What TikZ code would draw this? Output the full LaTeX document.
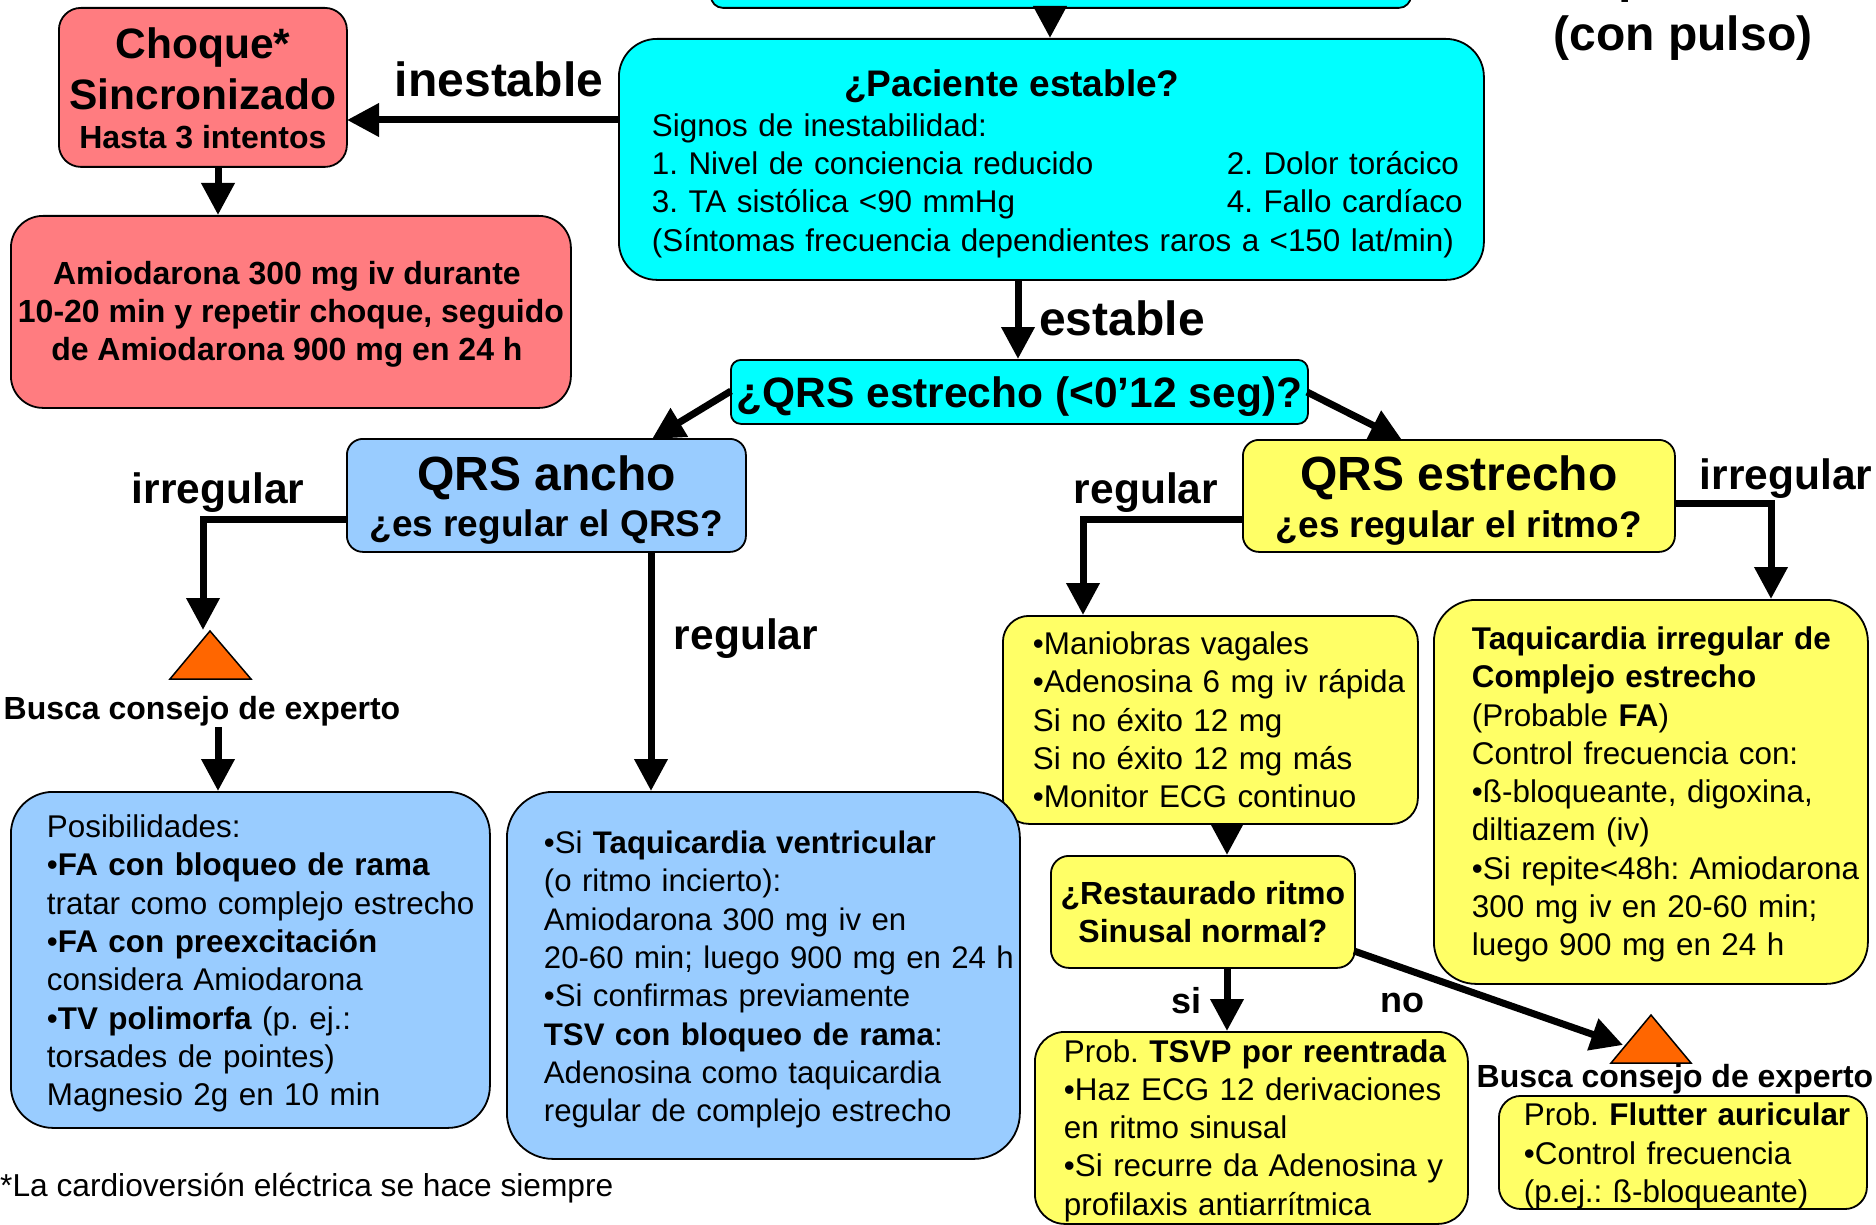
\documentclass[tikz,border=0pt]{standalone}
\usepackage{fontspec}
\setmainfont{Liberation Sans}
\usetikzlibrary{arrows.meta}
\definecolor{cyanbox}{RGB}{0,255,255}
\definecolor{redbox}{RGB}{255,124,128}
\definecolor{bluebox}{RGB}{153,204,255}
\definecolor{yellowbox}{RGB}{255,255,102}
\definecolor{orangetri}{RGB}{255,102,0}
\newcommand{\Fs}[1]{\fontsize{#1}{38.3}\selectfont\frenchspacing}
\newcommand{\Pad}[1]{\leftskip=#1pt\rightskip=-60pt plus 1fil\relax}
\newcommand{\Dn}[1]{\vrule width 0pt height #1pt\relax}
\newcommand{\Bul}{•}
\tikzset{
  x=1pt,y=-1pt,
  box/.style={draw=black,line width=1.8pt,rounded corners=#1,inner sep=0pt,anchor=north west,font=\Fs{31.4}},
  box/.default=22pt,
  tbox/.style args={#1 by #2}{minimum width=#1,minimum height=#2,text width=#1,align=left},
  cbox/.style args={#1 by #2}{minimum width=#1,minimum height=#2,align=center},
  conn/.style={line width=7pt,-{Triangle[length=32pt,width=32pt]}},
  lab/.style={inner sep=0pt,font=\Fs{48}\bfseries},
  labs/.style={inner sep=0pt,font=\Fs{42.5}\bfseries},
  busca/.style={inner sep=0pt,font=\Fs{32}\bfseries},
  tri/.style={draw=black,line width=1.5pt,fill=orangetri,line join=miter},
}
\begin{document}
\begin{tikzpicture}
\useasboundingbox (0,0) rectangle (1876,1225);
\clip (0,0) rectangle (1876,1225);
% title
\node[inner sep=0pt,font=\Fs{48}\bfseries,anchor=base] (titleA) at (1683,-7) {Taquicardia};
\node[inner sep=0pt,font=\Fs{48}\bfseries,anchor=base] (titleB) at (1683,51) {(con pulso)};
% boxes
\node[box=12pt,fill=cyanbox,cbox=700pt by 70pt] (top) at (710,-63) {};
\node[box=38pt,fill=cyanbox,tbox=865pt by 241pt] (pac) at (618,38) {\Pad{33}%
  \makebox[720pt][c]{\Dn{35}\Fs{37}\bfseries ¿Paciente estable?}\\[2pt]
  Signos de inestabilidad:\\
  \makebox[575pt][l]{1. Nivel de conciencia reducido}2. Dolor torácico\\
  \makebox[575pt][l]{3. TA sistólica <90 mmHg}4. Fallo cardíaco\\
  (Síntomas frecuencia dependientes raros a <150 lat/min)\par};
\node[box=22pt,fill=redbox,cbox=288pt by 159pt] (choque) at (58,7) {\Dn{32}\Fs{42.5}\bfseries Choque*\\[10.5pt]
  \Fs{42.5}\bfseries Sincronizado\\[1pt] \Fs{32}\bfseries Hasta 3 intentos};
\node[box=32pt,fill=redbox,cbox=560pt by 192pt,font=\Fs{32}\bfseries] (amio) at (10,215) {\Dn{28}Amiodarona 300 mg iv durante\hspace*{8pt}\\
  10-20 min y repetir choque, seguido\hspace*{8pt}\\ de Amiodarona 900 mg en 24 h\hspace*{8pt}};
\node[box=10pt,fill=cyanbox,cbox=577pt by 64pt,font=\Fs{42.5}\bfseries] (qrsq) at (730,359) {\Dn{41}¿QRS estrecho (<0’12 seg)?};
\node[box=16pt,fill=bluebox,cbox=399pt by 113pt] (ancho) at (346,438) {\Dn{44}\Fs{48}\bfseries QRS ancho\\[8.5pt] \Fs{37}\bfseries ¿es regular el QRS?};
\node[box=16pt,fill=yellowbox,cbox=432pt by 112pt] (estrecho) at (1242,439) {\Dn{44}\Fs{48}\bfseries QRS estrecho\\[8.5pt] \Fs{37}\bfseries ¿es regular el ritmo?};
\node[box=26pt,fill=yellowbox,tbox=415pt by 208pt] (vagal) at (1002,615) {\Pad{30}%
  \Bul Maniobras vagales\\ \Bul Adenosina 6 mg iv rápida\\ Si no éxito 12 mg\\ Si no éxito 12 mg más\\ \Bul Monitor ECG continuo\par};
\node[box=18pt,fill=yellowbox,cbox=304pt by 112pt,font=\Fs{32}\bfseries] (rest) at (1050,855) {¿Restaurado ritmo\\ Sinusal normal?};
\node[box=30pt,fill=yellowbox,tbox=433pt by 192pt] (tsvp) at (1034,1031) {\Pad{29}%
  \Dn{28}Prob. \textbf{TSVP por reentrada}\\ \Bul Haz ECG 12 derivaciones\\ en ritmo sinusal\\ \Bul Si recurre da Adenosina y\\ profilaxis antiarrítmica\par};
\node[box=22pt,fill=yellowbox,tbox=368pt by 112pt] (flutter) at (1498,1095) {\Pad{25}%
  \Dn{30}Prob. \textbf{Flutter auricular}\\ \Bul Control frecuencia\\ (p.ej.: ß-bloqueante)\par};
\node[box=42pt,fill=yellowbox,tbox=434pt by 384pt] (irr) at (1433,599) {\Pad{38}%
  \Dn{28}\textbf{Taquicardia irregular de}\\ \textbf{Complejo estrecho}\\ (Probable \textbf{FA})\\ Control frecuencia con:\\
  \Bul ß-bloqueante, digoxina,\\ diltiazem (iv)\\ \Bul Si repite<48h: Amiodarona\\ 300 mg iv en 20-60 min;\\ luego 900 mg en 24 h\par};
\node[box=42pt,fill=bluebox,tbox=479pt by 336pt] (posib) at (10,791) {\Pad{36}%
  \Dn{30}Posibilidades:\\ \Bul\textbf{FA con bloqueo de rama}\\ tratar como complejo estrecho\\ \Bul\textbf{FA con preexcitación}\\ considera Amiodarona\\
  \Bul\textbf{TV polimorfa} (p. ej.:\\ torsades de pointes)\\ Magnesio 2g en 10 min\par};
\node[box=46pt,fill=bluebox,tbox=513pt by 367pt,font=\Fs{31.2}] (sitaq) at (506,791) {\Pad{37}%
  \Dn{31}\Bul Si \textbf{Taquicardia ventricular}\\ (o ritmo incierto):\\ Amiodarona 300 mg iv en\\ 20-60 min; luego 900 mg en 24 h\\
  \Bul Si confirmas previamente\\ \textbf{TSV con bloqueo de rama}:\\ Adenosina como taquicardia\\ regular de complejo estrecho\par};
% triangles
\coordinate (triLa) at (210,631); \coordinate (triLb) at (251,679); \coordinate (triLc) at (170,679);
\coordinate (triRa) at (1651,1015); \coordinate (triRb) at (1691,1063); \coordinate (triRc) at (1611,1063);
\draw[tri] (triLa) -- (triLb) -- (triLc) -- cycle;
\draw[tri] (triRa) -- (triRb) -- (triRc) -- cycle;
% free texts
\node[busca] (buscaL) at (202,711) {Busca consejo de experto};
\node[busca] (buscaR) at (1675,1079) {Busca consejo de experto};
\node[inner sep=0pt,font=\Fs{31.7},anchor=base west] (nota) at (0,1196) {*La cardioversión eléctrica se hace siempre};
\node[lab] (lInest) at (499,79) {inestable};
\node[lab] (lEst) at (1122,318) {estable};
\node[labs] (lIrrL) at (218,493) {irregular};
\node[labs] (lRegL) at (746,639) {regular};
\node[labs] (lRegR) at (1146,493) {regular};
\node[labs] (lIrrR) at (1786,479) {irregular};
\node[font=\Fs{36}\bfseries,inner sep=0pt] (lSi) at (1186,1001) {si};
\node[font=\Fs{36}\bfseries,inner sep=0pt] (lNo) at (1402,1003) {no};
% anchors of connectors
\coordinate (eTop) at (1050,7); \coordinate (tPac) at (1050,38);
\coordinate (ePac) at (618,120); \coordinate (tCho) at (347,120);
\coordinate (eCho) at (218,166); \coordinate (tAmi) at (218,215);
\coordinate (ePac2) at (1018,279); \coordinate (tQrs) at (1018,359);
\coordinate (eQ1) at (731,391); \coordinate (tAn) at (652,439);
\coordinate (eQ2) at (1307,392); \coordinate (tEs) at (1402,440);
\coordinate (eAn1) at (347,519); \coordinate (cAn1) at (203,519); \coordinate (tTri) at (203,630);
\coordinate (eBus) at (218,727); \coordinate (tPos) at (218,791);
\coordinate (eAn2) at (651,551); \coordinate (tSi) at (651,791);
\coordinate (eEs1) at (1243,519); \coordinate (cEs1) at (1083,519); \coordinate (tVag) at (1083,615);
\coordinate (eEs2) at (1675,503); \coordinate (cEs2) at (1771,503); \coordinate (tIrr) at (1771,599);
\coordinate (eVag) at (1227,823); \coordinate (tRes) at (1227,855);
\coordinate (eRes) at (1227,967); \coordinate (tTs) at (1227,1031);
\coordinate (eRes2) at (1354,951); \coordinate (tTriR) at (1623,1045);
% connectors
\draw[conn] (eTop) -- (tPac);
\draw[conn] (ePac) -- (tCho);
\draw[conn] (eCho) -- (tAmi);
\draw[conn] (ePac2) -- (tQrs);
\draw[conn] (eQ1) -- (tAn);
\draw[conn] (eQ2) -- (tEs);
\draw[conn] (eAn1) -- (cAn1) -- (tTri);
\draw[conn] (eBus) -- (tPos);
\draw[conn] (eAn2) -- (tSi);
\draw[conn] (eEs1) -- (cEs1) -- (tVag);
\draw[conn] (eEs2) -- (cEs2) -- (tIrr);
\draw[conn] (eVag) -- (tRes);
\draw[conn] (eRes) -- (tTs);
\draw[conn] (eRes2) -- (tTriR);
\end{tikzpicture}
\end{document}
